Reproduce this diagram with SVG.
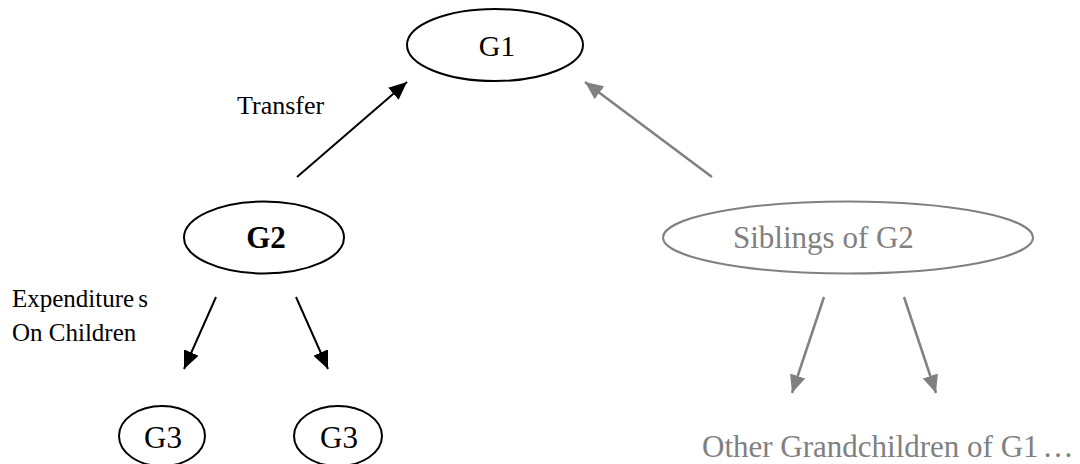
<svg xmlns="http://www.w3.org/2000/svg" width="1080" height="464" viewBox="0 0 1080 464">
<style>
.node{fill:#fff;stroke:#000;stroke-width:2}
.gnode{fill:#fff;stroke:#808080;stroke-width:2}
text{font-family:"Liberation Serif","Times New Roman",serif}
.t{fill:#000}
.gt{fill:#808080}
.e{stroke:#000;stroke-width:2;fill:none}
.ge{stroke:#808080;stroke-width:2.5;fill:none}
</style>
<defs>
<marker id="ah" markerUnits="userSpaceOnUse" markerWidth="20" markerHeight="16" refX="18" refY="8" orient="auto">
<path d="M0,0 L18,8 L0,16 Z" fill="#000"/>
</marker>
<marker id="gah" markerUnits="userSpaceOnUse" markerWidth="20" markerHeight="16" refX="18" refY="8" orient="auto">
<path d="M0,0 L18,8 L0,16 Z" fill="#808080"/>
</marker>
</defs>
<rect width="1080" height="464" fill="#fff"/>
<g id="connectors">
<line class="e" x1="297" y1="177" x2="407" y2="82" marker-end="url(#ah)"/>
<line class="ge" x1="712" y1="177" x2="585" y2="82" marker-end="url(#gah)"/>
<line class="e" x1="216" y1="297" x2="184" y2="369" marker-end="url(#ah)"/>
<line class="e" x1="296" y1="297" x2="328" y2="369" marker-end="url(#ah)"/>
<line class="ge" x1="824" y1="297" x2="792" y2="393" marker-end="url(#gah)"/>
<line class="ge" x1="904" y1="297" x2="936" y2="393" marker-end="url(#gah)"/>
</g>
<g id="labels">
<text class="t" x="237" y="114" font-size="26">Transfer</text>
<text class="t" x="12" y="307" font-size="25">Expenditure<tspan dx="4">s</tspan></text>
<text class="t" x="12" y="341" font-size="25">On Children</text>
</g>
<g id="G1">
<ellipse class="node" cx="495" cy="45" rx="88" ry="36"/>
<text class="t" x="497" y="56" font-size="30" text-anchor="middle">G1</text>
</g>
<g id="G2">
<ellipse class="node" cx="264" cy="237.5" rx="80" ry="36"/>
<text class="t" x="266" y="248" font-size="31" font-weight="bold" text-anchor="middle">G2</text>
</g>
<g id="siblings">
<ellipse class="gnode" cx="848" cy="237.5" rx="185" ry="36"/>
<text class="gt" x="733" y="248" font-size="31">Siblings of G2</text>
</g>
<g id="G3a">
<ellipse class="node" cx="162" cy="436" rx="43" ry="30"/>
<text class="t" x="163" y="448" font-size="31" text-anchor="middle">G3</text>
</g>
<g id="G3b">
<ellipse class="node" cx="338" cy="436" rx="44" ry="30"/>
<text class="t" x="339" y="448" font-size="31" text-anchor="middle">G3</text>
</g>
<g id="others">
<text class="gt" x="702" y="457" font-size="31">Other Grandchildren of G1<tspan dx="4">…</tspan></text>
</g>
</svg>
